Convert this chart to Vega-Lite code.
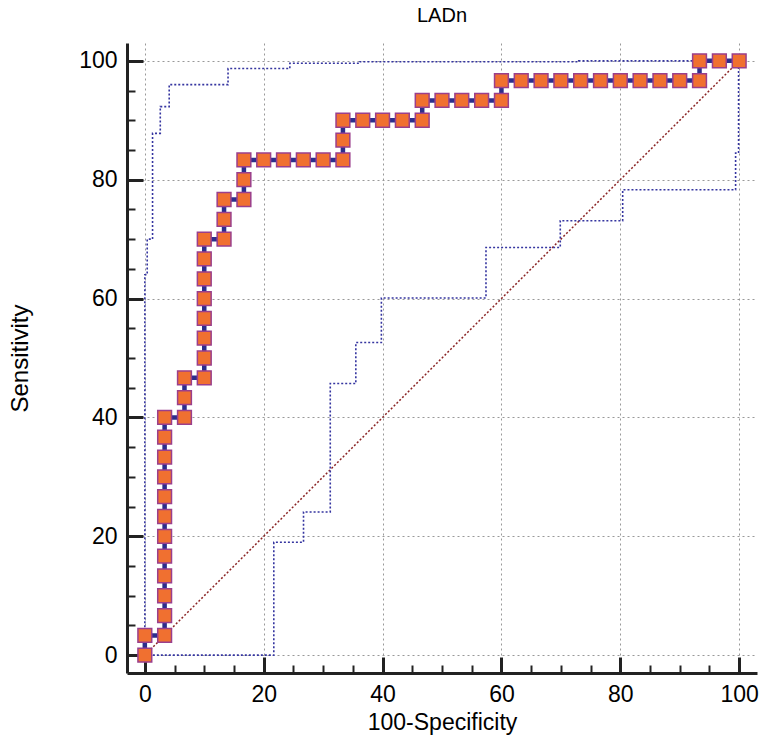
{
  "$schema": "https://vega.github.io/schema/vega-lite/v6.json",
  "width": 630,
  "height": 630,
  "autosize": {"type": "none"},
  "padding": {"left": 127, "top": 43, "right": 7, "bottom": 73},
  "background": "white",
  "title": {"text": "LADn", "fontSize": 20, "font": "Liberation Sans", "fontWeight": "normal", "color": "#000000", "offset": 17},
  "config": {
    "view": {"stroke": null},
    "font": "Liberation Sans"
  },
  "datasets": {
    "roc": [
      {"i": 0, "x": 0, "y": 0}, {"i": 1, "x": 0, "y": 3.33},
      {"i": 2, "x": 3.33, "y": 3.33}, {"i": 3, "x": 3.33, "y": 6.67}, {"i": 4, "x": 3.33, "y": 10},
      {"i": 5, "x": 3.33, "y": 13.33}, {"i": 6, "x": 3.33, "y": 16.67}, {"i": 7, "x": 3.33, "y": 20},
      {"i": 8, "x": 3.33, "y": 23.33}, {"i": 9, "x": 3.33, "y": 26.67}, {"i": 10, "x": 3.33, "y": 30},
      {"i": 11, "x": 3.33, "y": 33.33}, {"i": 12, "x": 3.33, "y": 36.67}, {"i": 13, "x": 3.33, "y": 40},
      {"i": 14, "x": 6.67, "y": 40}, {"i": 15, "x": 6.67, "y": 43.33}, {"i": 16, "x": 6.67, "y": 46.67},
      {"i": 17, "x": 10, "y": 46.67}, {"i": 18, "x": 10, "y": 50}, {"i": 19, "x": 10, "y": 53.33},
      {"i": 20, "x": 10, "y": 56.67}, {"i": 21, "x": 10, "y": 60}, {"i": 22, "x": 10, "y": 63.33},
      {"i": 23, "x": 10, "y": 66.67}, {"i": 24, "x": 10, "y": 70},
      {"i": 25, "x": 13.33, "y": 70}, {"i": 26, "x": 13.33, "y": 73.33}, {"i": 27, "x": 13.33, "y": 76.67},
      {"i": 28, "x": 16.67, "y": 76.67}, {"i": 29, "x": 16.67, "y": 80}, {"i": 30, "x": 16.67, "y": 83.33},
      {"i": 31, "x": 20, "y": 83.33}, {"i": 32, "x": 23.33, "y": 83.33}, {"i": 33, "x": 26.67, "y": 83.33},
      {"i": 34, "x": 30, "y": 83.33}, {"i": 35, "x": 33.33, "y": 83.33}, {"i": 36, "x": 33.33, "y": 86.67},
      {"i": 37, "x": 33.33, "y": 90}, {"i": 38, "x": 36.67, "y": 90}, {"i": 39, "x": 40, "y": 90},
      {"i": 40, "x": 43.33, "y": 90}, {"i": 41, "x": 46.67, "y": 90}, {"i": 42, "x": 46.67, "y": 93.33},
      {"i": 43, "x": 50, "y": 93.33}, {"i": 44, "x": 53.33, "y": 93.33}, {"i": 45, "x": 56.67, "y": 93.33},
      {"i": 46, "x": 60, "y": 93.33}, {"i": 47, "x": 60, "y": 96.67}, {"i": 48, "x": 63.33, "y": 96.67},
      {"i": 49, "x": 66.67, "y": 96.67}, {"i": 50, "x": 70, "y": 96.67}, {"i": 51, "x": 73.33, "y": 96.67},
      {"i": 52, "x": 76.67, "y": 96.67}, {"i": 53, "x": 80, "y": 96.67}, {"i": 54, "x": 83.33, "y": 96.67},
      {"i": 55, "x": 86.67, "y": 96.67}, {"i": 56, "x": 90, "y": 96.67}, {"i": 57, "x": 93.33, "y": 96.67},
      {"i": 58, "x": 93.33, "y": 100}, {"i": 59, "x": 96.67, "y": 100}, {"i": 60, "x": 100, "y": 100}
    ],
    "upper": [
      {"i": 0, "x": 0, "y": 0}, {"i": 1, "x": 0, "y": 64}, {"i": 2, "x": 0.4, "y": 64},
      {"i": 3, "x": 0.4, "y": 70}, {"i": 4, "x": 1.3, "y": 70}, {"i": 5, "x": 1.3, "y": 87.8},
      {"i": 6, "x": 2.6, "y": 87.8}, {"i": 7, "x": 2.6, "y": 92.3}, {"i": 8, "x": 4.1, "y": 92.3},
      {"i": 9, "x": 4.1, "y": 96}, {"i": 10, "x": 14, "y": 96}, {"i": 11, "x": 14, "y": 98.7},
      {"i": 12, "x": 24.4, "y": 98.7}, {"i": 13, "x": 24.4, "y": 99.6}, {"i": 14, "x": 36.2, "y": 99.6},
      {"i": 15, "x": 36.2, "y": 99.85}, {"i": 16, "x": 73, "y": 99.85}, {"i": 17, "x": 73, "y": 100},
      {"i": 18, "x": 100, "y": 100}
    ],
    "lower": [
      {"i": 0, "x": 0, "y": 0}, {"i": 1, "x": 21.7, "y": 0}, {"i": 2, "x": 21.7, "y": 19},
      {"i": 3, "x": 26.7, "y": 19}, {"i": 4, "x": 26.7, "y": 24.1}, {"i": 5, "x": 31.2, "y": 24.1},
      {"i": 6, "x": 31.2, "y": 45.7}, {"i": 7, "x": 35.5, "y": 45.7}, {"i": 8, "x": 35.5, "y": 52.6},
      {"i": 9, "x": 39.8, "y": 52.6}, {"i": 10, "x": 39.8, "y": 60.1}, {"i": 11, "x": 57.4, "y": 60.1},
      {"i": 12, "x": 57.4, "y": 68.6}, {"i": 13, "x": 69.9, "y": 68.6}, {"i": 14, "x": 69.9, "y": 73.1},
      {"i": 15, "x": 80.4, "y": 73.1}, {"i": 16, "x": 80.4, "y": 78.3}, {"i": 17, "x": 99.4, "y": 78.3},
      {"i": 18, "x": 99.4, "y": 84.5}, {"i": 19, "x": 99.9, "y": 84.5}, {"i": 20, "x": 99.9, "y": 100},
      {"i": 21, "x": 100, "y": 100}
    ],
    "diag": [
      {"i": 0, "x": 0, "y": 0}, {"i": 1, "x": 100, "y": 100}
    ],
    "minor": [
      {"x": 5, "y": 5}, {"x": 95, "y": 95}
    ]
  },
  "layer": [
    {
      "encoding": {
        "x": {
          "field": "x", "type": "quantitative",
          "scale": {"domain": [-3, 103], "nice": false, "zero": false},
          "axis": {
            "title": "100-Specificity", "titleFontSize": 23, "titleFontWeight": "normal", "titleColor": "#000000", "titlePadding": 5,
            "values": [0, 20, 40, 60, 80, 100], "labelFontSize": 23, "labelColor": "#000000", "labelPadding": 26,
            "tickSize": -16, "tickWidth": 3, "tickColor": "#222222",
            "domainWidth": 3, "domainColor": "#222222",
            "grid": true, "gridColor": "#999999", "gridDash": [2, 3], "gridWidth": 1
          }
        },
        "y": {
          "field": "y", "type": "quantitative",
          "scale": {"domain": [-3, 103], "nice": false, "zero": false},
          "axis": {
            "title": "Sensitivity", "titleFontSize": 24, "titleFontWeight": "normal", "titleColor": "#000000", "titlePadding": 46,
            "values": [0, 20, 40, 60, 80, 100], "labelFontSize": 23, "labelColor": "#000000", "labelPadding": 26,
            "tickSize": -16, "tickWidth": 3, "tickColor": "#222222",
            "domainWidth": 3, "domainColor": "#222222",
            "grid": true, "gridColor": "#999999", "gridDash": [2, 3], "gridWidth": 1
          }
        },
        "order": {"field": "i", "type": "quantitative"}
      },
      "layer": [
        {"data": {"name": "diag"}, "mark": {"type": "line", "color": "#8b2525", "strokeWidth": 1.5, "strokeDash": [2, 2]}},
        {"data": {"name": "upper"}, "mark": {"type": "line", "color": "#3535a0", "strokeWidth": 1.6, "strokeDash": [2, 2]}},
        {"data": {"name": "lower"}, "mark": {"type": "line", "color": "#3535a0", "strokeWidth": 1.6, "strokeDash": [2, 2]}},
        {"data": {"name": "roc"}, "mark": {"type": "line", "color": "#2c2e8c", "strokeWidth": 4.5}},
        {"data": {"name": "roc"}, "mark": {"type": "point", "shape": "square", "size": 190, "filled": true, "fill": "#f07030", "stroke": "#9a3f8c", "strokeWidth": 1.5, "opacity": 1}}
      ]
    },
    {
      "data": {"name": "minor"},
      "mark": {"type": "point", "opacity": 0},
      "encoding": {
        "x": {
          "field": "x", "type": "quantitative",
          "axis": {
            "orient": "bottom", "title": null, "labels": false, "domain": false, "grid": false,
            "values": [5, 10, 15, 25, 30, 35, 45, 50, 55, 65, 70, 75, 85, 90, 95],
            "tickSize": -8, "tickWidth": 2, "tickColor": "#222222"
          }
        },
        "y": {
          "field": "y", "type": "quantitative",
          "axis": {
            "orient": "left", "title": null, "labels": false, "domain": false, "grid": false,
            "values": [5, 10, 15, 25, 30, 35, 45, 50, 55, 65, 70, 75, 85, 90, 95],
            "tickSize": -8, "tickWidth": 2, "tickColor": "#222222"
          }
        }
      }
    }
  ],
  "resolve": {"axis": {"x": "independent", "y": "independent"}}
}
